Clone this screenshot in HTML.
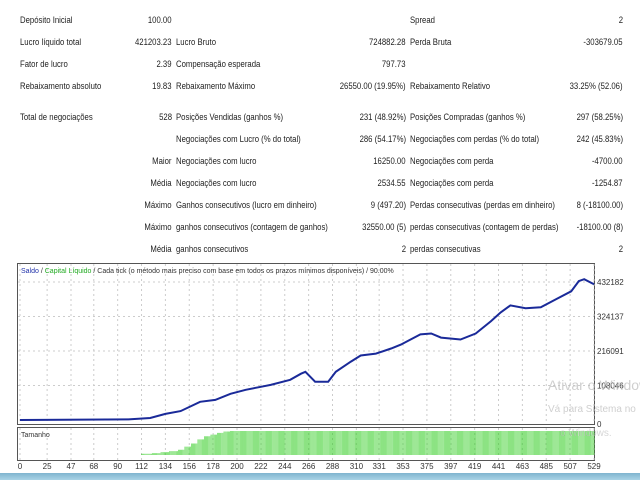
<!DOCTYPE html>
<html><head><meta charset="utf-8"><style>
body{margin:0;width:640px;height:480px;background:#fff;position:relative;overflow:hidden;font-family:"Liberation Sans",sans-serif;}
.t{position:absolute;font-size:9px;color:#222;white-space:nowrap;line-height:10px;}
.l{transform:scaleX(.86);transform-origin:left center;}
.r{transform:scaleX(.86);transform-origin:right center;text-align:right;}
</style></head><body>
<div id="tbl"></div>
<svg id="chart" width="640" height="480" style="position:absolute;left:0;top:0"></svg>
<div style="position:absolute;left:0;top:473px;width:640px;height:7px;background:linear-gradient(#7fb4cf,#a9d3e6)"></div>
<script>
const rows=[
[20,"Depósito Inicial","100.00","","","Spread","2"],
[42,"Lucro líquido total","421203.23","Lucro Bruto","724882.28","Perda Bruta","-303679.05"],
[64,"Fator de lucro","2.39","Compensação esperada","797.73","",""],
[86,"Rebaixamento absoluto","19.83","Rebaixamento Máximo","26550.00 (19.95%)","Rebaixamento Relativo","33.25% (52.06)"],
[117,"Total de negociações","528","Posições Vendidas (ganhos %)","231 (48.92%)","Posições Compradas (ganhos %)","297 (58.25%)"],
[139,"","","Negociações com Lucro (% do total)","286 (54.17%)","Negociações com perdas (% do total)","242 (45.83%)"],
[161,"","Maior","Negociações com lucro","16250.00","Negociações com perda","-4700.00"],
[183,"","Média","Negociações com lucro","2534.55","Negociações com perda","-1254.87"],
[205,"","Máximo","Ganhos consecutivos (lucro em dinheiro)","9 (497.20)","Perdas consecutivas (perdas em dinheiro)","8 (-18100.00)"],
[227,"","Máximo","ganhos consecutivos (contagem de ganhos)","32550.00 (5)","perdas consecutivas (contagem de perdas)","-18100.00 (8)"],
[249,"","Média","ganhos consecutivos","2","perdas consecutivas","2"]];
const tbl=document.getElementById('tbl');
function txt(x,y,s,cls){const d=document.createElement('div');d.className='t '+cls;d.textContent=s;
 if(cls==='r'){d.style.right=(640-x)+'px';}else d.style.left=x+'px';d.style.top=(y-5)+'px';
 
 
 tbl.appendChild(d);}
rows.forEach(r=>{const y=r[0];
 if(r[1])txt(20,y,r[1],'l');if(r[2])txt(172,y,r[2],'r');if(r[3])txt(176,y,r[3],'l');
 if(r[4])txt(406,y,r[4],'r');if(r[5])txt(410,y,r[5],'l');if(r[6])txt(623,y,r[6],'r');});

const trades=[0,100,120,134,148,166,180,194,208,222,231,249,259,263,272,284,291,305,314,328,342,351,360,369,379,388,406,420,434,443,452,466,480,494,508,515,520,529];
const balance=[100,2000,6300,19000,28000,57000,63000,82000,94500,104000,110000,126000,145000,151000,120000,120000,151000,183000,202000,208000,224000,236000,252000,268000,271000,258000,252000,271000,309000,337000,359000,350000,353000,378000,403000,435000,441000,425000];
const yTicks=[0,108046,216091,324137,432182];
const xTicks=[0,25,47,68,90,112,134,156,178,200,222,244,266,288,310,331,353,375,397,419,441,463,485,507,529];
const volTrades=[112,122,130,138,146,152,158,164,170,176,182,188,194,200,529];
const volSizes=[0.5,0.8,1.2,1.6,2.2,3.5,4.8,6.5,7.8,8.5,9.2,9.8,10,10,10];
const volMax=10;
const X=i=>20+i*(574/529), Y=v=>420-v*(34.5/108046), VY=s=>455-s/volMax*24;
const svg=document.getElementById('chart');const NS='http://www.w3.org/2000/svg';
function el(t,a,name){const e=document.createElementNS(NS,t);for(const k in a)e.setAttribute(k,a[k]);
 
 
 svg.appendChild(e);return e;}
el('rect',{x:17.5,y:263.5,width:577,height:161,fill:'#fff',stroke:'#555'},'chart-frame');
el('rect',{x:17.5,y:427.5,width:577,height:33,fill:'#fff',stroke:'#555'},'volume-frame');
xTicks.forEach(t=>{const x=X(t);
 el('line',{x1:x,y1:264,x2:x,y2:424,stroke:'#ccc','stroke-dasharray':'2,3'},'x-grid-line');
 el('line',{x1:x,y1:428,x2:x,y2:460,stroke:'#ccc','stroke-dasharray':'2,3'},'x-grid-line');
 const tx=el('text',{x:x,y:469,'font-size':8,'text-anchor':'middle',fill:'#333','font-family':'Liberation Sans'},'x-tick-label');tx.textContent=t;});
yTicks.forEach(v=>{const y=Y(v);
 if(v>0)el('line',{x1:18,y1:y,x2:594,y2:y,stroke:'#ccc','stroke-dasharray':'2,3'},'y-grid-line');
 const tx=el('text',{x:597,y:y+3+(v===0?4:0),'font-size':8,fill:'#333','font-family':'Liberation Sans'},'y-tick-label');tx.textContent=v;});
for(let i=volTrades[0];i<=529;i++){let s=0;for(let k=0;k<volTrades.length;k++)if(volTrades[k]<=i)s=volSizes[k];
 el('line',{x1:X(i),y1:455,x2:X(i),y2:VY(s),stroke:'#2ecc1e','stroke-width':0.55},'volume-bar');}
let d='';trades.forEach((t,k)=>{d+=(k?'L':'M')+X(t).toFixed(1)+','+Y(balance[k]).toFixed(1);});
el('path',{d:d,fill:'none',stroke:'#4cbb4c','stroke-width':1},'equity-line');
el('path',{d:d,fill:'none',stroke:'#1a2a99','stroke-width':2},'balance-line');
const title=el('text',{x:21,y:273,'font-size':7,'font-family':'Liberation Sans',fill:'#333'},'chart-title');
title.innerHTML='<tspan fill="#2233aa">Saldo</tspan> / <tspan fill="#22aa22">Capital Líquido</tspan> / Cada tick (o método mais preciso com base em todos os prazos mínimos disponíveis) / 90.00%';
const vt=el('text',{x:21,y:437,'font-size':7,'font-family':'Liberation Sans',fill:'#333'},'volume-title');vt.textContent='Tamanho';
const w1=el('text',{x:548,y:390,'font-size':14,'font-family':'Liberation Sans',fill:'#bbb','fill-opacity':0.7},'watermark-title');w1.textContent='Ativar o Windows';
const w2=el('text',{x:548,y:412,'font-size':10,'font-family':'Liberation Sans',fill:'#bbb','fill-opacity':0.7},'watermark-text');w2.textContent='Vá para Sistema no';
const w3=el('text',{x:560,y:436,'font-size':10,'font-family':'Liberation Sans',fill:'#bbb','fill-opacity':0.6},'watermark-text');w3.textContent='o Windows.';
</script>
</body></html>
